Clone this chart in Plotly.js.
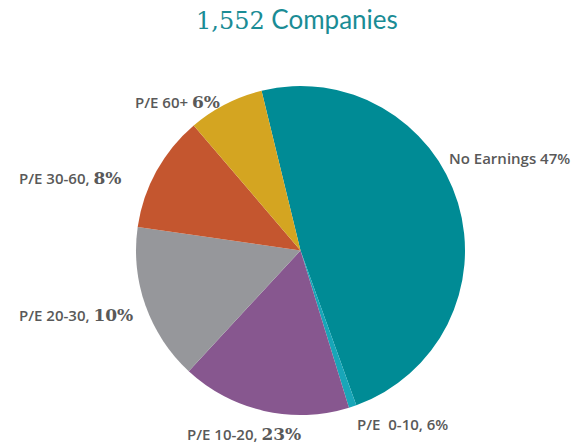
<!DOCTYPE html>
<html><head><meta charset="utf-8">
<script src="https://cdn.plot.ly/plotly-3.0.1.min.js"></script>
<style>body{margin:0;background:#fff}#c{width:587px;height:444px}</style>
</head><body><div id="c"></div>
<script>
const categories = ["No Earnings", "P/E  0-10,", "P/E 10-20,", "P/E 20-30,", "P/E 30-60,", "P/E 60+"];
const shares = [48.3, 0.75, 16.65, 15.4, 11.47, 7.44];
const labelPct = ["47%", "6%", "23%", "10%", "8%", "6%"];
const colors = ["#008B95", "#18A6B8", "#87578F", "#96979B", "#C4562F", "#D4A521"];

const labelPos = [
  {x: 447, y: 158, serif: false},
  {x: 355, y: 424, serif: false},
  {x: 185, y: 434, serif: true},
  {x: 17,  y: 315, serif: true},
  {x: 17,  y: 178, serif: true},
  {x: 133, y: 102, serif: true}
];
const W = 587, H = 444;
const annotations = categories.map((c, i) => {
  const p = labelPos[i];
  const pct = p.serif
    ? '<span style="font-family:\'DejaVu Serif\',serif;font-size:17px;font-weight:bold">' + labelPct[i] + '</span>'
    : labelPct[i];
  return {
    xref: 'paper', yref: 'paper', x: p.x / W, y: 1 - p.y / H,
    xanchor: 'left', yanchor: 'middle', showarrow: false,
    text: c + ' ' + pct,
    font: {family: '"Open Sans", sans-serif', size: 15, color: '#595959', weight: 600}
  };
});
annotations.push({
  xref: 'paper', yref: 'paper', x: 297 / W, y: 1 - 19 / H,
  xanchor: 'center', yanchor: 'middle', showarrow: false,
  text: '<span style="font-family:\'DejaVu Serif\',serif;font-size:24px">1,552</span> Companies',
  font: {family: 'Lato, sans-serif', size: 26, color: '#1A8C95'}
});

Plotly.newPlot('c', [{
  type: 'pie',
  labels: categories,
  values: shares,
  sort: false,
  direction: 'clockwise',
  rotation: -13.7,
  marker: {colors: colors, line: {width: 0}},
  textinfo: 'none',
  hoverinfo: 'label',
  domain: {x: [136 / W, 465 / W], y: [(H - 415) / H, (H - 86) / H]}
}], {
  width: W, height: H,
  margin: {l: 0, r: 0, t: 0, b: 0},
  showlegend: false,
  paper_bgcolor: '#ffffff',
  annotations: annotations
}, {displayModeBar: false, staticPlot: true});
</script></body></html>
